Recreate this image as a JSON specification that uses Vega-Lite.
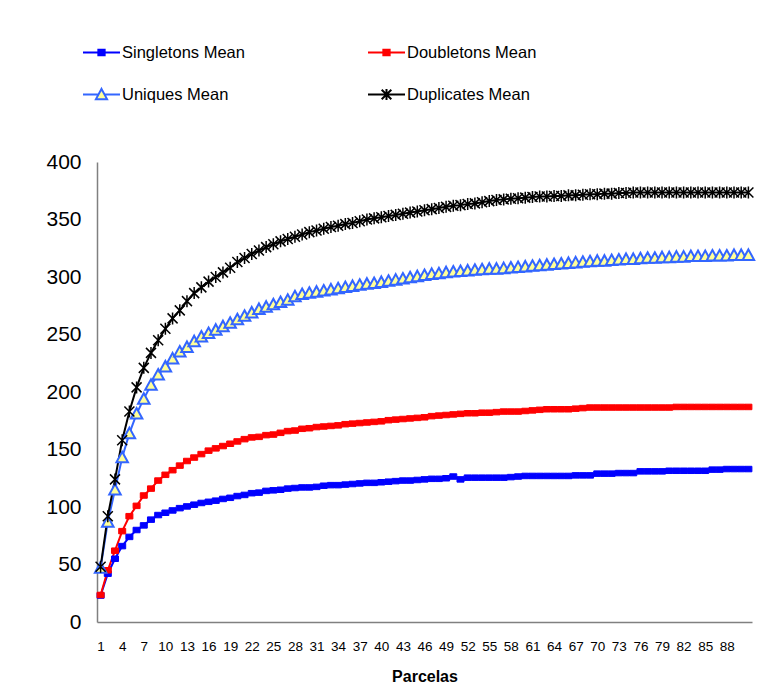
{
"$schema": "https://vega.github.io/schema/vega-lite/v6.json",
"width": 655, "height": 460,
"autosize": "none",
"padding": {"left": 97, "top": 162, "right": 27, "bottom": 71},
"background": "white",
"config": {"view": {"stroke": null}, "font": "Liberation Sans"},
"data": {"values": [
{"p":1,"Singletons Mean":23,"Doubletons Mean":23.5,"Uniques Mean":47,"Duplicates Mean":48},
{"p":2,"Singletons Mean":42,"Doubletons Mean":45,"Uniques Mean":87,"Duplicates Mean":92},
{"p":3,"Singletons Mean":55,"Doubletons Mean":62,"Uniques Mean":115,"Duplicates Mean":124},
{"p":4,"Singletons Mean":66,"Doubletons Mean":79,"Uniques Mean":143,"Duplicates Mean":158},
{"p":5,"Singletons Mean":74,"Doubletons Mean":92,"Uniques Mean":164,"Duplicates Mean":183},
{"p":6,"Singletons Mean":80,"Doubletons Mean":101,"Uniques Mean":181,"Duplicates Mean":204},
{"p":7,"Singletons Mean":84,"Doubletons Mean":110,"Uniques Mean":194,"Duplicates Mean":221},
{"p":8,"Singletons Mean":89,"Doubletons Mean":116,"Uniques Mean":206,"Duplicates Mean":234},
{"p":9,"Singletons Mean":93,"Doubletons Mean":123,"Uniques Mean":215,"Duplicates Mean":245},
{"p":10,"Singletons Mean":95,"Doubletons Mean":128,"Uniques Mean":222,"Duplicates Mean":255},
{"p":11,"Singletons Mean":97,"Doubletons Mean":132,"Uniques Mean":229,"Duplicates Mean":264},
{"p":12,"Singletons Mean":99,"Doubletons Mean":136,"Uniques Mean":235,"Duplicates Mean":271},
{"p":13,"Singletons Mean":100.5,"Doubletons Mean":140,"Uniques Mean":239,"Duplicates Mean":279},
{"p":14,"Singletons Mean":102,"Doubletons Mean":143,"Uniques Mean":244,"Duplicates Mean":286},
{"p":15,"Singletons Mean":103.5,"Doubletons Mean":146,"Uniques Mean":248,"Duplicates Mean":291},
{"p":16,"Singletons Mean":104.5,"Doubletons Mean":149,"Uniques Mean":251,"Duplicates Mean":296},
{"p":17,"Singletons Mean":105.5,"Doubletons Mean":151,"Uniques Mean":254,"Duplicates Mean":300},
{"p":18,"Singletons Mean":107,"Doubletons Mean":153,"Uniques Mean":257,"Duplicates Mean":304},
{"p":19,"Singletons Mean":108,"Doubletons Mean":155,"Uniques Mean":260,"Duplicates Mean":308},
{"p":20,"Singletons Mean":109.5,"Doubletons Mean":157,"Uniques Mean":263,"Duplicates Mean":313},
{"p":21,"Singletons Mean":110.5,"Doubletons Mean":159,"Uniques Mean":266,"Duplicates Mean":316.5},
{"p":22,"Singletons Mean":112,"Doubletons Mean":160.5,"Uniques Mean":269,"Duplicates Mean":320},
{"p":23,"Singletons Mean":112.5,"Doubletons Mean":161,"Uniques Mean":272,"Duplicates Mean":323},
{"p":24,"Singletons Mean":114,"Doubletons Mean":162.5,"Uniques Mean":274,"Duplicates Mean":326},
{"p":25,"Singletons Mean":114.5,"Doubletons Mean":163,"Uniques Mean":276,"Duplicates Mean":328.5},
{"p":26,"Singletons Mean":115,"Doubletons Mean":164.5,"Uniques Mean":278,"Duplicates Mean":331},
{"p":27,"Singletons Mean":116,"Doubletons Mean":166,"Uniques Mean":280,"Duplicates Mean":333},
{"p":28,"Singletons Mean":116.5,"Doubletons Mean":166.5,"Uniques Mean":283,"Duplicates Mean":335},
{"p":29,"Singletons Mean":117,"Doubletons Mean":168,"Uniques Mean":285,"Duplicates Mean":337},
{"p":30,"Singletons Mean":117,"Doubletons Mean":168.5,"Uniques Mean":286,"Duplicates Mean":339},
{"p":31,"Singletons Mean":117.5,"Doubletons Mean":169.5,"Uniques Mean":287,"Duplicates Mean":340.5},
{"p":32,"Singletons Mean":118.5,"Doubletons Mean":170,"Uniques Mean":288,"Duplicates Mean":342},
{"p":33,"Singletons Mean":119,"Doubletons Mean":170.5,"Uniques Mean":289,"Duplicates Mean":343.5},
{"p":34,"Singletons Mean":119,"Doubletons Mean":171,"Uniques Mean":290,"Duplicates Mean":344.5},
{"p":35,"Singletons Mean":119.5,"Doubletons Mean":172,"Uniques Mean":291,"Duplicates Mean":346},
{"p":36,"Singletons Mean":120,"Doubletons Mean":172.5,"Uniques Mean":292,"Duplicates Mean":347},
{"p":37,"Singletons Mean":120.5,"Doubletons Mean":173,"Uniques Mean":293,"Duplicates Mean":348.5},
{"p":38,"Singletons Mean":121,"Doubletons Mean":173.5,"Uniques Mean":294,"Duplicates Mean":350},
{"p":39,"Singletons Mean":121,"Doubletons Mean":174,"Uniques Mean":294.5,"Duplicates Mean":351},
{"p":40,"Singletons Mean":121.5,"Doubletons Mean":174.5,"Uniques Mean":295.5,"Duplicates Mean":352},
{"p":41,"Singletons Mean":122,"Doubletons Mean":175.5,"Uniques Mean":296.5,"Duplicates Mean":353},
{"p":42,"Singletons Mean":122.5,"Doubletons Mean":176,"Uniques Mean":297.5,"Duplicates Mean":354},
{"p":43,"Singletons Mean":123,"Doubletons Mean":176.5,"Uniques Mean":298.5,"Duplicates Mean":355},
{"p":44,"Singletons Mean":123,"Doubletons Mean":177,"Uniques Mean":299.5,"Duplicates Mean":356},
{"p":45,"Singletons Mean":123.5,"Doubletons Mean":177.5,"Uniques Mean":300.5,"Duplicates Mean":357},
{"p":46,"Singletons Mean":124,"Doubletons Mean":178,"Uniques Mean":301.5,"Duplicates Mean":358},
{"p":47,"Singletons Mean":124.5,"Doubletons Mean":179,"Uniques Mean":302.5,"Duplicates Mean":359},
{"p":48,"Singletons Mean":124.5,"Doubletons Mean":179.5,"Uniques Mean":303,"Duplicates Mean":360},
{"p":49,"Singletons Mean":125,"Doubletons Mean":180,"Uniques Mean":304,"Duplicates Mean":361},
{"p":50,"Singletons Mean":126.5,"Doubletons Mean":180.5,"Uniques Mean":304.5,"Duplicates Mean":362},
{"p":51,"Singletons Mean":124,"Doubletons Mean":181,"Uniques Mean":305,"Duplicates Mean":362.5},
{"p":52,"Singletons Mean":125.5,"Doubletons Mean":181.5,"Uniques Mean":305.5,"Duplicates Mean":363.5},
{"p":53,"Singletons Mean":125.5,"Doubletons Mean":181.5,"Uniques Mean":306,"Duplicates Mean":364},
{"p":54,"Singletons Mean":125.5,"Doubletons Mean":182,"Uniques Mean":306.5,"Duplicates Mean":365},
{"p":55,"Singletons Mean":125.5,"Doubletons Mean":182,"Uniques Mean":307,"Duplicates Mean":366},
{"p":56,"Singletons Mean":125.5,"Doubletons Mean":182.5,"Uniques Mean":307,"Duplicates Mean":367},
{"p":57,"Singletons Mean":125.5,"Doubletons Mean":183,"Uniques Mean":307.5,"Duplicates Mean":367.5},
{"p":58,"Singletons Mean":126,"Doubletons Mean":183,"Uniques Mean":308,"Duplicates Mean":368},
{"p":59,"Singletons Mean":126.5,"Doubletons Mean":183,"Uniques Mean":308.5,"Duplicates Mean":368.5},
{"p":60,"Singletons Mean":127,"Doubletons Mean":183.5,"Uniques Mean":309,"Duplicates Mean":369},
{"p":61,"Singletons Mean":127,"Doubletons Mean":184,"Uniques Mean":309.5,"Duplicates Mean":369.5},
{"p":62,"Singletons Mean":127,"Doubletons Mean":184.5,"Uniques Mean":310,"Duplicates Mean":370},
{"p":63,"Singletons Mean":127,"Doubletons Mean":185,"Uniques Mean":310.5,"Duplicates Mean":370},
{"p":64,"Singletons Mean":127,"Doubletons Mean":185,"Uniques Mean":311,"Duplicates Mean":370.5},
{"p":65,"Singletons Mean":127,"Doubletons Mean":185,"Uniques Mean":311.5,"Duplicates Mean":370.5},
{"p":66,"Singletons Mean":127,"Doubletons Mean":185,"Uniques Mean":312,"Duplicates Mean":371},
{"p":67,"Singletons Mean":127.5,"Doubletons Mean":185.5,"Uniques Mean":312.5,"Duplicates Mean":371},
{"p":68,"Singletons Mean":127.5,"Doubletons Mean":186,"Uniques Mean":313,"Duplicates Mean":371.5},
{"p":69,"Singletons Mean":127.5,"Doubletons Mean":186.5,"Uniques Mean":313.5,"Duplicates Mean":372},
{"p":70,"Singletons Mean":129,"Doubletons Mean":186.5,"Uniques Mean":314,"Duplicates Mean":372},
{"p":71,"Singletons Mean":129,"Doubletons Mean":186.5,"Uniques Mean":314,"Duplicates Mean":372.5},
{"p":72,"Singletons Mean":129,"Doubletons Mean":186.5,"Uniques Mean":314.5,"Duplicates Mean":372.5},
{"p":73,"Singletons Mean":129.5,"Doubletons Mean":186.5,"Uniques Mean":315,"Duplicates Mean":373},
{"p":74,"Singletons Mean":129.5,"Doubletons Mean":186.5,"Uniques Mean":315.5,"Duplicates Mean":373},
{"p":75,"Singletons Mean":129.5,"Doubletons Mean":186.5,"Uniques Mean":315.5,"Duplicates Mean":373.5},
{"p":76,"Singletons Mean":131,"Doubletons Mean":186.5,"Uniques Mean":316,"Duplicates Mean":373.5},
{"p":77,"Singletons Mean":131,"Doubletons Mean":186.5,"Uniques Mean":316.5,"Duplicates Mean":373.5},
{"p":78,"Singletons Mean":131,"Doubletons Mean":186.5,"Uniques Mean":316.5,"Duplicates Mean":373.5},
{"p":79,"Singletons Mean":131,"Doubletons Mean":186.5,"Uniques Mean":317,"Duplicates Mean":373.5},
{"p":80,"Singletons Mean":131.5,"Doubletons Mean":186.5,"Uniques Mean":317,"Duplicates Mean":373.5},
{"p":81,"Singletons Mean":131.5,"Doubletons Mean":187,"Uniques Mean":317.5,"Duplicates Mean":373.5},
{"p":82,"Singletons Mean":131.5,"Doubletons Mean":187,"Uniques Mean":317.5,"Duplicates Mean":373.5},
{"p":83,"Singletons Mean":131.5,"Doubletons Mean":187,"Uniques Mean":318,"Duplicates Mean":373.5},
{"p":84,"Singletons Mean":131.5,"Doubletons Mean":187,"Uniques Mean":318,"Duplicates Mean":373.5},
{"p":85,"Singletons Mean":131.5,"Doubletons Mean":187,"Uniques Mean":318,"Duplicates Mean":373.5},
{"p":86,"Singletons Mean":132.5,"Doubletons Mean":187,"Uniques Mean":318.5,"Duplicates Mean":373.5},
{"p":87,"Singletons Mean":132.5,"Doubletons Mean":187,"Uniques Mean":318.5,"Duplicates Mean":373.5},
{"p":88,"Singletons Mean":133,"Doubletons Mean":187,"Uniques Mean":318.5,"Duplicates Mean":373.5},
{"p":89,"Singletons Mean":133,"Doubletons Mean":187,"Uniques Mean":319,"Duplicates Mean":373.5},
{"p":90,"Singletons Mean":133,"Doubletons Mean":187,"Uniques Mean":319,"Duplicates Mean":373.5},
{"p":91,"Singletons Mean":133,"Doubletons Mean":187,"Uniques Mean":319,"Duplicates Mean":373.5}
]},
"transform": [{"fold": ["Singletons Mean","Doubletons Mean","Uniques Mean","Duplicates Mean"], "as": ["series","value"]}],
"encoding": {
  "x": {"field": "p", "type": "quantitative",
        "scale": {"domain": [0.5, 91.5], "nice": false, "zero": false},
        "axis": {"values": [1,4,7,10,13,16,19,22,25,28,31,34,37,40,43,46,49,52,55,58,61,64,67,70,73,76,79,82,85,88],
                 "title": "Parcelas", "titleFontSize": 16, "titleFontWeight": "bold", "titleColor": "#000000", "titlePadding": 16,
                 "labelFontSize": 13.5, "labelColor": "#000000", "labelPadding": 17, "ticks": false, "grid": false,
                 "labelFlush": false, "labelOverlap": false, "domainColor": "#808080", "domainWidth": 1.5}},
  "y": {"field": "value", "type": "quantitative",
        "scale": {"domain": [0, 400], "nice": false},
        "axis": {"values": [0,50,100,150,200,250,300,350,400], "title": null, "grid": false, "ticks": false,
                 "labelFontSize": 21, "labelColor": "#000000", "labelPadding": 16,
                 "domainColor": "#808080", "domainWidth": 1.5}}
},
"layer": [
  {"mark": {"type": "line", "strokeWidth": 2},
   "encoding": {
     "stroke": {"field": "series", "type": "nominal",
       "scale": {"domain": ["Singletons Mean","Doubletons Mean","Uniques Mean","Duplicates Mean"], "range": ["#0000ff","#ff0000","#3366ff","#000000"]},
       "legend": {"orient": "none", "legendX": -15, "legendY": -129, "direction": "horizontal", "columns": 2, "title": null,
         "symbolSize": 1369, "symbolStrokeWidth": 2, "labelFont": "Liberation Sans", "labelFontSize": 16.5, "labelColor": "#000000",
         "labelOffset": 1, "rowPadding": 14, "columnPadding": 119, "padding": 0,
         "encode": {"symbols": {"update": {
           "shape": {"signal": "datum.value === 'Uniques Mean' ? 'M-1,0H-0.17M0.17,0H1M0,-0.3L0.3,0.25L-0.3,0.25Z' : datum.value === 'Duplicates Mean' ? 'M-1,0H1M-0.26,-0.26L0.26,0.26M-0.26,0.26L0.26,-0.26M0,-0.3V0.3' : 'M-1,0H1M-0.17,-0.15H0.17V0.15H-0.17Z'"},
           "fill": {"signal": "datum.value === 'Singletons Mean' ? '#0000ff' : datum.value === 'Doubletons Mean' ? '#ff0000' : datum.value === 'Uniques Mean' ? '#ffff99' : 'transparent'"},
           "size": {"value": 1369},
           "strokeWidth": {"value": 2},
           "opacity": {"value": 1}
         }}}}}
   }},
  {"transform": [{"filter": {"field": "series", "equal": "Singletons Mean"}}],
   "mark": {"type": "point", "shape": "M-0.7,-0.55H0.7V0.55H-0.7Z", "size": 100, "filled": true, "fill": "#0000ff", "stroke": "#0000ff", "strokeWidth": 1, "opacity": 1}},
  {"transform": [{"filter": {"field": "series", "equal": "Doubletons Mean"}}],
   "mark": {"type": "point", "shape": "M-0.7,-0.55H0.7V0.55H-0.7Z", "size": 100, "filled": true, "fill": "#ff0000", "stroke": "#ff0000", "strokeWidth": 1, "opacity": 1}},
  {"transform": [{"filter": {"field": "series", "equal": "Uniques Mean"}}],
   "mark": {"type": "point", "shape": "M0,-1.15L1.15,0.95H-1.15Z", "size": 100, "filled": true, "fill": "#ffff99", "stroke": "#3366ff", "strokeWidth": 2, "opacity": 1}},
  {"transform": [{"filter": {"field": "series", "equal": "Duplicates Mean"}}],
   "mark": {"type": "point", "shape": "M-1,-1L1,1M-1,1L1,-1M0,-1.2V1.2", "size": 100, "filled": false, "stroke": "#000000", "strokeWidth": 1.5, "opacity": 1}}
]
}
